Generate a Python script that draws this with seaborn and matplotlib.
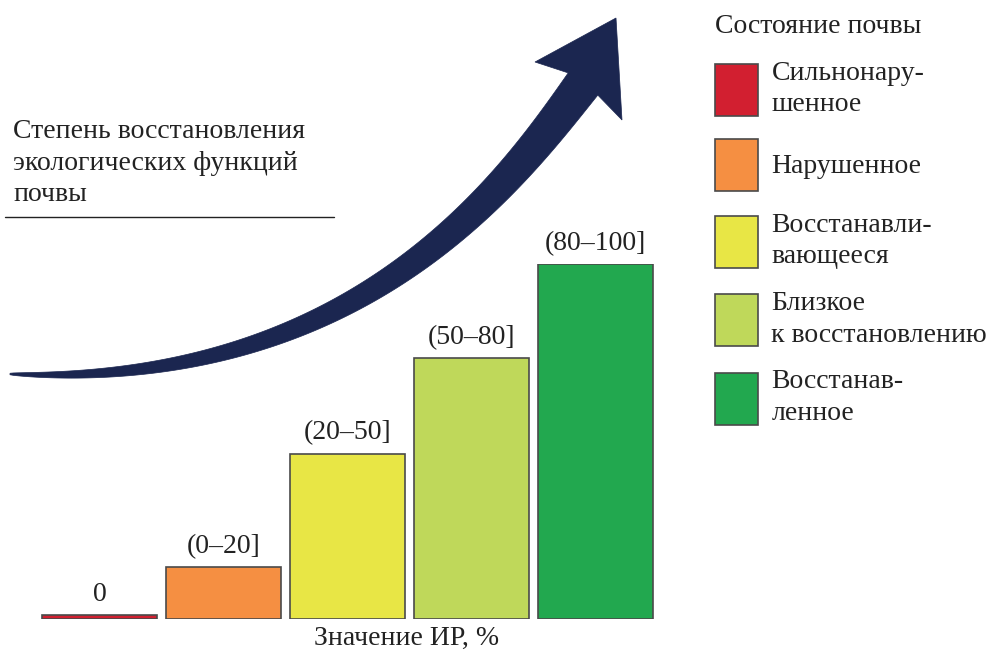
import numpy as np
import pandas as pd
import matplotlib.pyplot as plt
import seaborn as sns
from matplotlib.patches import Patch, Polygon

intervals = ["0", "(0–20]", "(20–50]", "(50–80]", "(80–100]"]
states = ["Сильнонару-\nшенное", "Нарушенное", "Восстанавли-\nвающееся",
          "Близкое\nк восстановлению", "Восстанав-\nленное"]
values = [1.1, 14.6, 46.5, 73.5, 100]
colors = ["#d21f30", "#f58f42", "#e8e645", "#bfd85a", "#22a84f"]

df = pd.DataFrame({"interval": intervals, "state": states, "value": values})

sns.set_style("white")
plt.rcParams["font.family"] = ["Liberation Serif", "DejaVu Serif"]
FS = 20
TXT = "#222222"

fig = plt.figure(figsize=(9.87, 6.52), dpi=100)
W, H = 987, 652

# overlay for the decorative arrow and the rule under the left caption
deco = fig.add_axes([0, 0, 1, 1])
deco.set_xlim(0, W)
deco.set_ylim(H, 0)
deco.axis("off")

# curved, tapering arrow (cubic bezier centre line), pixel coords
P = np.array([[10, 374], [360, 390], [511, 180], [583, 84]], float)
t = np.linspace(0, 1, 300)[:, None]
c = ((1 - t) ** 3) * P[0] + 3 * ((1 - t) ** 2) * t * P[1] + 3 * (1 - t) * t ** 2 * P[2] + t ** 3 * P[3]
d = 3 * ((1 - t) ** 2) * (P[1] - P[0]) + 6 * (1 - t) * t * (P[2] - P[1]) + 3 * t ** 2 * (P[3] - P[2])
d /= np.linalg.norm(d, axis=1)[:, None]
nrm = np.column_stack([-d[:, 1], d[:, 0]])
w = (1.5 + 35.5 * t[:, 0] ** 0.65) / 2
side_a = c + nrm * w[:, None]   # lower / right edge
side_b = c - nrm * w[:, None]   # upper / left edge
head = np.array([[622, 120], [616, 18], [535, 62]], float)
shape = np.vstack([side_a, head, side_b[::-1]])
deco.add_patch(Polygon(shape, closed=True, facecolor="#1b2650", edgecolor="#1b2650", lw=0.5))

deco.text(13, 163, "Степень восстановления\nэкологических функций\nпочвы",
          fontsize=FS, va="center", ha="left", linespacing=1.35, color=TXT)
deco.plot([5, 334], [217, 217], color=TXT, lw=1)

# bar chart
ax = fig.add_axes([37.5 / W, 33 / H, 620 / W, 355 / H])
ax.set_facecolor("none")
sns.barplot(data=df, x="interval", y="value", hue="state", palette=colors,
            saturation=1, dodge=False, width=0.92, edgecolor="#4a4a4a",
            linewidth=1.2, legend=False, ax=ax)
ax.set_xlim(-0.5, 4.5)
ax.set_ylim(0, 100)
ax.set_xticks([])
ax.set_yticks([])
ax.set_ylabel("")
ax.set_xlabel("Значение ИР, %", fontsize=FS, color=TXT, va="center")
ax.xaxis.set_label_coords((407 - 37.5) / 620, -19 / 355)
sns.despine(ax=ax, left=True, bottom=True)

for i, (lab, v) in enumerate(zip(intervals, values)):
    ax.annotate(lab, (i, v), xytext=(0, 15), textcoords="offset points",
                ha="center", va="center", fontsize=FS, color=TXT)

handles = [Patch(facecolor=col, edgecolor="#4a4a4a", lw=1.2) for col in colors]
leg = fig.legend(handles, states, title="Состояние почвы", loc="upper left",
                 bbox_to_anchor=(715 / W, 1 - 14 / H), frameon=False,
                 fontsize=FS, title_fontsize=FS, handlelength=1.55,
                 handleheight=2.5, handletextpad=0.48, labelspacing=0.78,
                 borderpad=0, borderaxespad=0, alignment="left")
for txt in leg.get_texts():
    txt.set_color(TXT)
    txt.set_linespacing(1.35)
leg.get_title().set_color(TXT)

fig.savefig("out.png", dpi=100)
